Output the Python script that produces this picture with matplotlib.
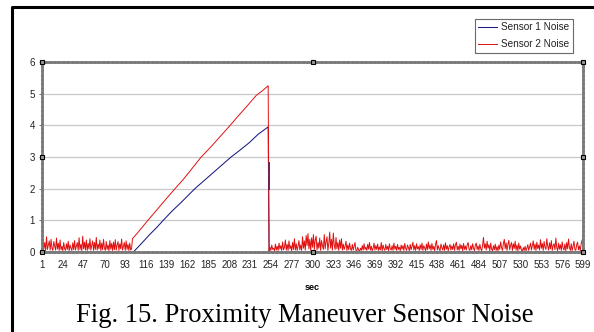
import numpy as np
import matplotlib
matplotlib.use("Agg")
import matplotlib.pyplot as plt
from matplotlib.lines import Line2D

plt.rcParams['font.family'] = ['Liberation Sans', 'DejaVu Sans']

# ---- data ----
# sensor 2 noise before the maneuver, seconds 1..100
s2_pre = [0.05, 0.42, 0.10, 0.30, 0.04, 0.48, 0.08, 0.22, 0.35, 0.06, 0.40, 0.12, 0.05, 0.33, 0.20, 0.06, 0.44, 0.09, 0.28, 0.05,
          0.38, 0.07, 0.18, 0.04, 0.30, 0.10, 0.05, 0.26, 0.08, 0.34, 0.04, 0.22, 0.12, 0.05, 0.29, 0.07, 0.36, 0.06, 0.19, 0.30,
          0.05, 0.45, 0.08, 0.24, 0.04, 0.50, 0.10, 0.31, 0.06, 0.38, 0.05, 0.27, 0.09, 0.42, 0.06, 0.20, 0.35, 0.05, 0.30, 0.08,
          0.46, 0.06, 0.25, 0.10, 0.38, 0.05, 0.28, 0.07, 0.40, 0.12, 0.05, 0.33, 0.08, 0.22, 0.04, 0.36, 0.09, 0.27, 0.05, 0.31,
          0.07, 0.39, 0.06, 0.21, 0.33, 0.05, 0.26, 0.10, 0.41, 0.06, 0.18, 0.30, 0.05, 0.35, 0.08, 0.24, 0.05, 0.28, 0.06, 0.10]

# ramps during the maneuver (sparse readings)
s2_ramp_sec = [101, 108, 118, 128, 138, 148, 158, 168, 177, 188, 198, 209, 218, 228, 238, 245, 251]
s2_ramp_val = [0.42, 0.65, 1.00, 1.33, 1.67, 2.00, 2.32, 2.68, 3.00, 3.33, 3.65, 4.00, 4.30, 4.62, 4.95, 5.10, 5.25]

s1_ramp_sec = [1, 102, 110, 120, 128, 135, 145, 155, 163, 170, 180, 190, 200, 210, 220, 230, 240, 251, 252, 599]
s1_ramp_val = [0, 0, 0.24, 0.55, 0.78, 1.00, 1.30, 1.57, 1.80, 2.00, 2.25, 2.50, 2.75, 3.00, 3.22, 3.45, 3.72, 3.95, 0, 0]

# short piece of sensor 1's drop that shows through
s1_drop_sec = 252
s1_drop_val = [2.8, 2.0]

# sensor 2 noise after the maneuver, seconds 252..599
s2_post = [0.04, 0.15, 0.05, 0.22, 0.08, 0.12, 0.04, 0.25, 0.06, 0.18, 0.05, 0.28, 0.09, 0.20, 0.05, 0.32, 0.07, 0.15, 0.38, 0.06,
           0.24, 0.05, 0.35, 0.10, 0.20, 0.04, 0.30, 0.08, 0.42, 0.06, 0.26, 0.05, 0.18, 0.36, 0.07, 0.22, 0.05, 0.48, 0.12, 0.35,
           0.06, 0.52, 0.20, 0.58, 0.10, 0.40, 0.05, 0.45, 0.15, 0.55, 0.08, 0.38, 0.50, 0.06, 0.30, 0.12, 0.44, 0.05, 0.36, 0.20,
           0.08, 0.55, 0.10, 0.32, 0.48, 0.05, 0.26, 0.63, 0.12, 0.40, 0.06, 0.60, 0.22, 0.08, 0.46, 0.10, 0.30, 0.05, 0.38, 0.12,
           0.42, 0.06, 0.25, 0.08, 0.18, 0.34, 0.05, 0.22, 0.07, 0.28, 0.10, 0.05, 0.24, 0.06, 0.18, 0.30, 0.05, 0.04, 0.15, 0.06,
           0.03, 0.12, 0.05, 0.20, 0.06, 0.26, 0.08, 0.15, 0.05, 0.24, 0.09, 0.30, 0.06, 0.18, 0.04, 0.12, 0.28, 0.06, 0.20, 0.08,
           0.25, 0.05, 0.16, 0.07, 0.30, 0.04, 0.22, 0.10, 0.05, 0.24, 0.08, 0.18, 0.04, 0.26, 0.10, 0.06, 0.20, 0.05, 0.28, 0.09,
           0.18, 0.05, 0.24, 0.08, 0.15, 0.04, 0.22, 0.09, 0.20, 0.05, 0.27, 0.12, 0.05, 0.22, 0.14, 0.04, 0.24, 0.07, 0.18, 0.31,
           0.06, 0.20, 0.05, 0.26, 0.10, 0.17, 0.05, 0.23, 0.08, 0.28, 0.05, 0.20, 0.12, 0.04, 0.25, 0.07, 0.32, 0.10, 0.22, 0.05,
           0.27, 0.08, 0.18, 0.04, 0.24, 0.36, 0.06, 0.20, 0.10, 0.04, 0.25, 0.14, 0.06, 0.23, 0.05, 0.29, 0.09, 0.20, 0.04, 0.16,
           0.24, 0.06, 0.19, 0.08, 0.26, 0.05, 0.22, 0.31, 0.07, 0.18, 0.05, 0.25, 0.10, 0.21, 0.04, 0.27, 0.08, 0.19, 0.06, 0.23,
           0.30, 0.09, 0.05, 0.20, 0.07, 0.26, 0.12, 0.04, 0.22, 0.28, 0.08, 0.19, 0.05, 0.24, 0.10, 0.04, 0.21, 0.46, 0.12, 0.26,
           0.06, 0.34, 0.12, 0.23, 0.04, 0.28, 0.09, 0.04, 0.20, 0.07, 0.25, 0.05, 0.17, 0.04, 0.22, 0.08, 0.32, 0.14, 0.05, 0.27,
           0.40, 0.10, 0.29, 0.05, 0.24, 0.37, 0.07, 0.21, 0.30, 0.05, 0.26, 0.11, 0.34, 0.06, 0.22, 0.04, 0.28, 0.09, 0.19, 0.05,
           0.03, 0.14, 0.05, 0.18, 0.04, 0.12, 0.23, 0.05, 0.16, 0.28, 0.06, 0.20, 0.35, 0.08, 0.25, 0.05, 0.31, 0.11, 0.22, 0.06,
           0.39, 0.12, 0.27, 0.05, 0.33, 0.15, 0.08, 0.42, 0.18, 0.06, 0.29, 0.10, 0.36, 0.05, 0.20, 0.26, 0.07, 0.44, 0.13, 0.04,
           0.28, 0.09, 0.23, 0.05, 0.32, 0.12, 0.06, 0.25, 0.04, 0.30, 0.10, 0.41, 0.14, 0.05, 0.26, 0.04, 0.18, 0.34, 0.08, 0.05,
           0.23, 0.31, 0.07, 0.19, 0.04, 0.27, 0.38, 0.10]

xtick_labels = list(range(1, 600, 23))
ytick_labels = [0, 1, 2, 3, 4, 5, 6]

SENSOR1_COLOR = '#1a1a80'
SENSOR2_COLOR = '#e01010'

# build the sensor 2 series
s2_sec = list(range(1, 1 + len(s2_pre))) + s2_ramp_sec + list(range(252, 252 + len(s2_post)))
s2_val = s2_pre + s2_ramp_val + s2_post

fig = plt.figure(figsize=(5.94, 3.32), dpi=100)
ax = fig.add_axes([42 / 594, 80 / 332, 541 / 594, 190 / 332])

ax.plot(s1_ramp_sec, s1_ramp_val, color=SENSOR1_COLOR, lw=0.75, label='Sensor 1 Noise', zorder=3)
ax.plot(s2_sec, s2_val, color=SENSOR2_COLOR, lw=0.7, label='Sensor 2 Noise', zorder=4)
ax.plot([s1_drop_sec] * len(s1_drop_val), s1_drop_val, color='#70205a', lw=1.4, zorder=5)

ax.set_xlim(1, 599)
ax.set_ylim(0, 6)
ax.set_xticks(xtick_labels)
ax.set_xticklabels([str(v) for v in xtick_labels], fontsize=7.0, color='#222222')
ax.set_yticks(ytick_labels)
ax.set_yticklabels([str(v) for v in ytick_labels], fontsize=7.0, color='#222222')
ax.tick_params(axis='both', length=2, width=0.6, color='#555555', pad=3)
ax.tick_params(axis='x', length=0, pad=6)
ax.set_xlabel('sec', fontsize=6.5, fontweight='bold', labelpad=9)

# gridlines
ax.yaxis.grid(True, color='#c8c8c8', lw=0.9)
ax.set_axisbelow(True)

for sp in ax.spines.values():
    sp.set_color('#7a7a7a')
    sp.set_linestyle((0, (1, 0.6)))
    sp.set_linewidth(2)
    sp.set_zorder(6)

# selection handles on the plot area
hx = [0, 0.5, 1, 0, 1, 0, 0.5, 1]
hy = [1, 1, 1, 0.5, 0.5, 0, 0, 0]
ax.plot(hx, hy, ls='none', marker='s', ms=3.2, mfc='#9a9a9a', mec='black', mew=0.8,
        transform=ax.transAxes, clip_on=False, zorder=7)

leg = ax.legend(loc='upper right', bbox_to_anchor=(573 / 594, 1 - 19 / 332), bbox_transform=fig.transFigure,
                fontsize=7.2, frameon=True, fancybox=False, edgecolor='#444444', borderpad=0.35,
                handlelength=1.9, handletextpad=0.4, labelspacing=0.65, borderaxespad=0)
leg.get_frame().set_linewidth(0.8)
for t in leg.get_texts():
    t.set_color('#222222')

# outer frame of the figure
fig.add_artist(Line2D([12 / 594, 12 / 594, 1.0], [0.0, 1 - 7 / 332, 1 - 7 / 332],
                      transform=fig.transFigure, color='black', lw=2.2))

fig.text(305 / 594, 1 - 316 / 332, 'Fig. 15. Proximity Maneuver Sensor Noise',
         family=['Liberation Serif', 'DejaVu Serif'], fontsize=19.2, ha='center', va='center')

fig.savefig('out.png', dpi=100)
